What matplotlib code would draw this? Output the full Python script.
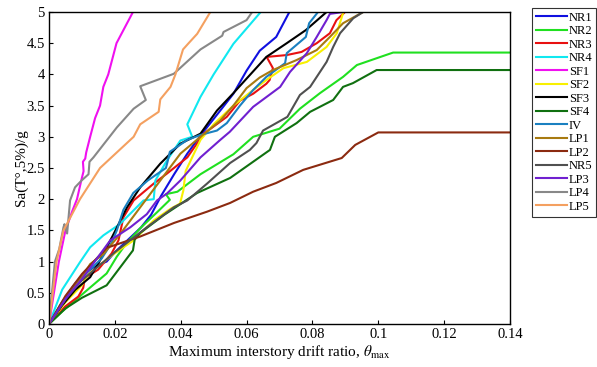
import matplotlib
matplotlib.use('Agg')
from matplotlib import pyplot as plt

plt.rcParams['font.family'] = ['Liberation Serif', 'DejaVu Serif']
plt.rcParams['mathtext.fontset'] = 'stix'

# drift ratio / Sa pairs
nr1_x = [0, 0.004, 0.008, 0.012, 0.015, 0.0175, 0.020, 0.024, 0.028, 0.031, 0.034, 0.038, 0.042, 0.046, 0.052, 0.056, 0.060, 0.064, 0.069, 0.073]
nr1_y = [0, 0.35, 0.65, 0.85, 0.95, 1.0, 1.15, 1.35, 1.55, 1.75, 2.05, 2.4, 2.73, 3.02, 3.42, 3.69, 4.06, 4.38, 4.6, 5.0]

nr2_x = [0, 0.004, 0.0104, 0.0175, 0.0206, 0.0236, 0.028, 0.033, 0.0367, 0.0355, 0.039, 0.046, 0.056, 0.062, 0.070, 0.0762, 0.0823, 0.0893, 0.0935, 0.1045, 0.14]
nr2_y = [0, 0.2, 0.49, 0.81, 1.08, 1.3, 1.55, 1.8, 1.99, 2.08, 2.12, 2.4, 2.72, 3.0, 3.13, 3.45, 3.7, 3.96, 4.15, 4.35, 4.35]

nr3_x = [0, 0.0049, 0.0089, 0.0104, 0.0109, 0.0149, 0.019, 0.0211, 0.0226, 0.0257, 0.0318, 0.0358, 0.042, 0.047, 0.054, 0.058, 0.062, 0.066, 0.067, 0.068, 0.0661, 0.0722, 0.0767, 0.0813, 0.0853, 0.0873, 0.0899]
nr3_y = [0, 0.28, 0.44, 0.58, 0.74, 0.87, 1.13, 1.34, 1.71, 1.98, 2.25, 2.41, 2.67, 3.05, 3.32, 3.58, 3.69, 3.85, 3.91, 4.1, 4.28, 4.31, 4.36, 4.5, 4.66, 4.87, 5.0]

nr4_x = [0, 0.004, 0.0094, 0.0125, 0.0165, 0.0215, 0.0287, 0.0318, 0.0323, 0.0358, 0.0399, 0.0435, 0.042, 0.046, 0.050, 0.056, 0.0643]
nr4_y = [0, 0.55, 0.99, 1.23, 1.42, 1.6, 1.98, 2.0, 2.3, 2.62, 2.94, 3.0, 3.2, 3.64, 4.0, 4.49, 5.0]

sf1_x = [0, 0.0015, 0.003, 0.005, 0.007, 0.0085, 0.0098, 0.0105, 0.0103, 0.011, 0.0113, 0.0125, 0.014, 0.0155, 0.0165, 0.018, 0.0195, 0.0205, 0.023, 0.0255]
sf1_y = [0, 0.5, 1.0, 1.5, 1.8, 2.0, 2.3, 2.45, 2.6, 2.65, 2.75, 3.0, 3.3, 3.5, 3.8, 4.0, 4.3, 4.5, 4.75, 5.0]

sf2_x = [0, 0.005, 0.01, 0.012, 0.0155, 0.0196, 0.0257, 0.0318, 0.037, 0.0398, 0.0408, 0.0415, 0.046, 0.050, 0.056, 0.062, 0.066, 0.0712, 0.0783, 0.0843, 0.0874, 0.0894]
sf2_y = [0, 0.35, 0.62, 0.8, 0.95, 1.12, 1.34, 1.66, 1.85, 1.93, 2.14, 2.45, 2.95, 3.2, 3.5, 3.75, 3.91, 4.1, 4.2, 4.44, 4.66, 5.0]

sf3_x = [0, 0.004, 0.008, 0.0125, 0.0155, 0.0196, 0.0237, 0.0277, 0.0338, 0.0399, 0.046, 0.051, 0.056, 0.0622, 0.066, 0.0722, 0.078, 0.0843]
sf3_y = [0, 0.3, 0.55, 0.75, 1.02, 1.44, 1.87, 2.19, 2.57, 2.89, 3.05, 3.42, 3.7, 4.06, 4.28, 4.5, 4.71, 5.0]

sf4_x = [0, 0.005, 0.010, 0.0175, 0.0225, 0.0255, 0.026, 0.0277, 0.035, 0.045, 0.055, 0.0671, 0.0686, 0.0752, 0.0793, 0.0863, 0.0893, 0.0923, 0.0995, 0.14]
sf4_y = [0, 0.25, 0.42, 0.62, 0.97, 1.18, 1.35, 1.46, 1.75, 2.1, 2.34, 2.79, 3.0, 3.22, 3.4, 3.59, 3.8, 3.86, 4.07, 4.07]

iv_x = [0, 0.004, 0.008, 0.012, 0.016, 0.019, 0.0206, 0.0226, 0.0256, 0.030, 0.0355, 0.036, 0.0367, 0.042, 0.046, 0.051, 0.054, 0.058, 0.062, 0.066, 0.0717, 0.0722, 0.078, 0.079, 0.0817]
iv_y = [0, 0.35, 0.65, 0.85, 1.05, 1.3, 1.5, 1.83, 2.1, 2.3, 2.5, 2.6, 2.76, 2.95, 3.03, 3.1, 3.22, 3.5, 3.75, 3.96, 4.18, 4.34, 4.6, 4.82, 5.0]

lp1_x = [0, 0.005, 0.01, 0.0125, 0.0165, 0.0216, 0.0277, 0.0338, 0.0399, 0.046, 0.052, 0.056, 0.060, 0.064, 0.068, 0.0752, 0.0813, 0.0853, 0.0893, 0.0954]
lp1_y = [0, 0.4, 0.75, 0.96, 1.12, 1.44, 1.87, 2.3, 2.73, 3.0, 3.26, 3.5, 3.78, 3.95, 4.07, 4.23, 4.39, 4.6, 4.82, 5.0]

lp2_x = [0, 0.005, 0.01, 0.0175, 0.0276, 0.038, 0.048, 0.055, 0.062, 0.069, 0.0772, 0.0889, 0.093, 0.100, 0.14]
lp2_y = [0, 0.45, 0.8, 1.22, 1.4, 1.62, 1.8, 1.94, 2.12, 2.26, 2.47, 2.66, 2.87, 3.07, 3.07]

nr5_x = [0, 0.005, 0.01, 0.02, 0.0297, 0.0379, 0.042, 0.048, 0.055, 0.061, 0.063, 0.065, 0.0724, 0.0762, 0.0793, 0.0823, 0.0843, 0.0863, 0.0884, 0.0924, 0.0954]
nr5_y = [0, 0.4, 0.7, 1.15, 1.55, 1.87, 1.98, 2.25, 2.58, 2.79, 2.9, 3.1, 3.32, 3.67, 3.8, 4.04, 4.2, 4.44, 4.66, 4.9, 5.0]

lp3_x = [0, 0.005, 0.01, 0.0186, 0.0247, 0.0297, 0.0328, 0.0358, 0.0399, 0.046, 0.052, 0.0549, 0.062, 0.0702, 0.0732, 0.0783, 0.0813, 0.0843, 0.0853, 0.0893]
lp3_y = [0, 0.4, 0.72, 1.34, 1.55, 1.76, 1.98, 2.09, 2.3, 2.67, 2.95, 3.08, 3.48, 3.8, 4.04, 4.34, 4.6, 4.87, 4.97, 5.0]

lp4_x = [0, 0.0018, 0.0031, 0.0044, 0.0047, 0.0055, 0.0064, 0.0079, 0.0099, 0.012, 0.0123, 0.0135, 0.0206, 0.0257, 0.0294, 0.0277, 0.0379, 0.046, 0.0526, 0.053, 0.060, 0.0617]
lp4_y = [0, 1.0, 1.2, 1.55, 1.6, 1.45, 1.98, 2.19, 2.3, 2.4, 2.6, 2.67, 3.15, 3.45, 3.59, 3.81, 4.01, 4.4, 4.62, 4.68, 4.87, 5.0]

lp5_x = [0, 0.0023, 0.0044, 0.0094, 0.0155, 0.0257, 0.0277, 0.0333, 0.0338, 0.0369, 0.0384, 0.0407, 0.0424, 0.045, 0.049]
lp5_y = [0, 1.0, 1.5, 2.0, 2.5, 3.0, 3.2, 3.4, 3.6, 3.8, 4.0, 4.4, 4.5, 4.65, 5.0]

names = ['NR1', 'NR2', 'NR3', 'NR4', 'SF1', 'SF2', 'SF3', 'SF4',
         'IV', 'LP1', 'LP2', 'NR5', 'LP3', 'LP4', 'LP5']
xs = [nr1_x, nr2_x, nr3_x, nr4_x, sf1_x, sf2_x, sf3_x, sf4_x,
      iv_x, lp1_x, lp2_x, nr5_x, lp3_x, lp4_x, lp5_x]
ys = [nr1_y, nr2_y, nr3_y, nr4_y, sf1_y, sf2_y, sf3_y, sf4_y,
      iv_y, lp1_y, lp2_y, nr5_y, lp3_y, lp4_y, lp5_y]
colors = ['#1010e0', '#20e020', '#e81010', '#10e8f0', '#f010f0', '#f8f000',
          '#000000', '#107010', '#1a80c0', '#a87a10', '#8b2a10', '#505050',
          '#7020d0', '#888888', '#f4a060']

fig = plt.figure(figsize=(5.97, 3.67), dpi=100)
ax = fig.add_axes([49 / 597, 1 - 324 / 367, 461 / 597, 312 / 367])

for x, y, c, n in zip(xs, ys, colors, names):
    ax.plot(x, y, color=c, lw=1.5, label=n)

ax.set_xlim(0, 0.14)
ax.set_ylim(0, 5)
ax.set_xticks([0, 0.02, 0.04, 0.06, 0.08, 0.1, 0.12, 0.14])
ax.set_xticklabels(['0', '0.02', '0.04', '0.06', '0.08', '0.1', '0.12', '0.14'])
ax.set_yticks([0, 0.5, 1, 1.5, 2, 2.5, 3, 3.5, 4, 4.5, 5])
ax.set_yticklabels(['0', '0.5', '1', '1.5', '2', '2.5', '3', '3.5', '4', '4.5', '5'])
ax.tick_params(direction='in', length=3, labelsize=10.5, pad=3)
ax.set_xlabel(r'Maximum interstory drift ratio, $\theta_{\rm max}$', fontsize=11, labelpad=1)
ax.set_ylabel('Sa(T°,5%)/g', fontsize=11, labelpad=-1)
for s in ax.spines.values():
    s.set_linewidth(1.0)

leg = fig.legend(loc='upper left', bbox_to_anchor=(532 / 597, 1 - 8 / 367),
                 fontsize=9, frameon=True, fancybox=False, edgecolor='black',
                 handlelength=2.5, handletextpad=0.15, labelspacing=0.12,
                 borderpad=0.3, borderaxespad=0)
leg.get_frame().set_linewidth(0.8)

fig.savefig('out.png', dpi=100)
